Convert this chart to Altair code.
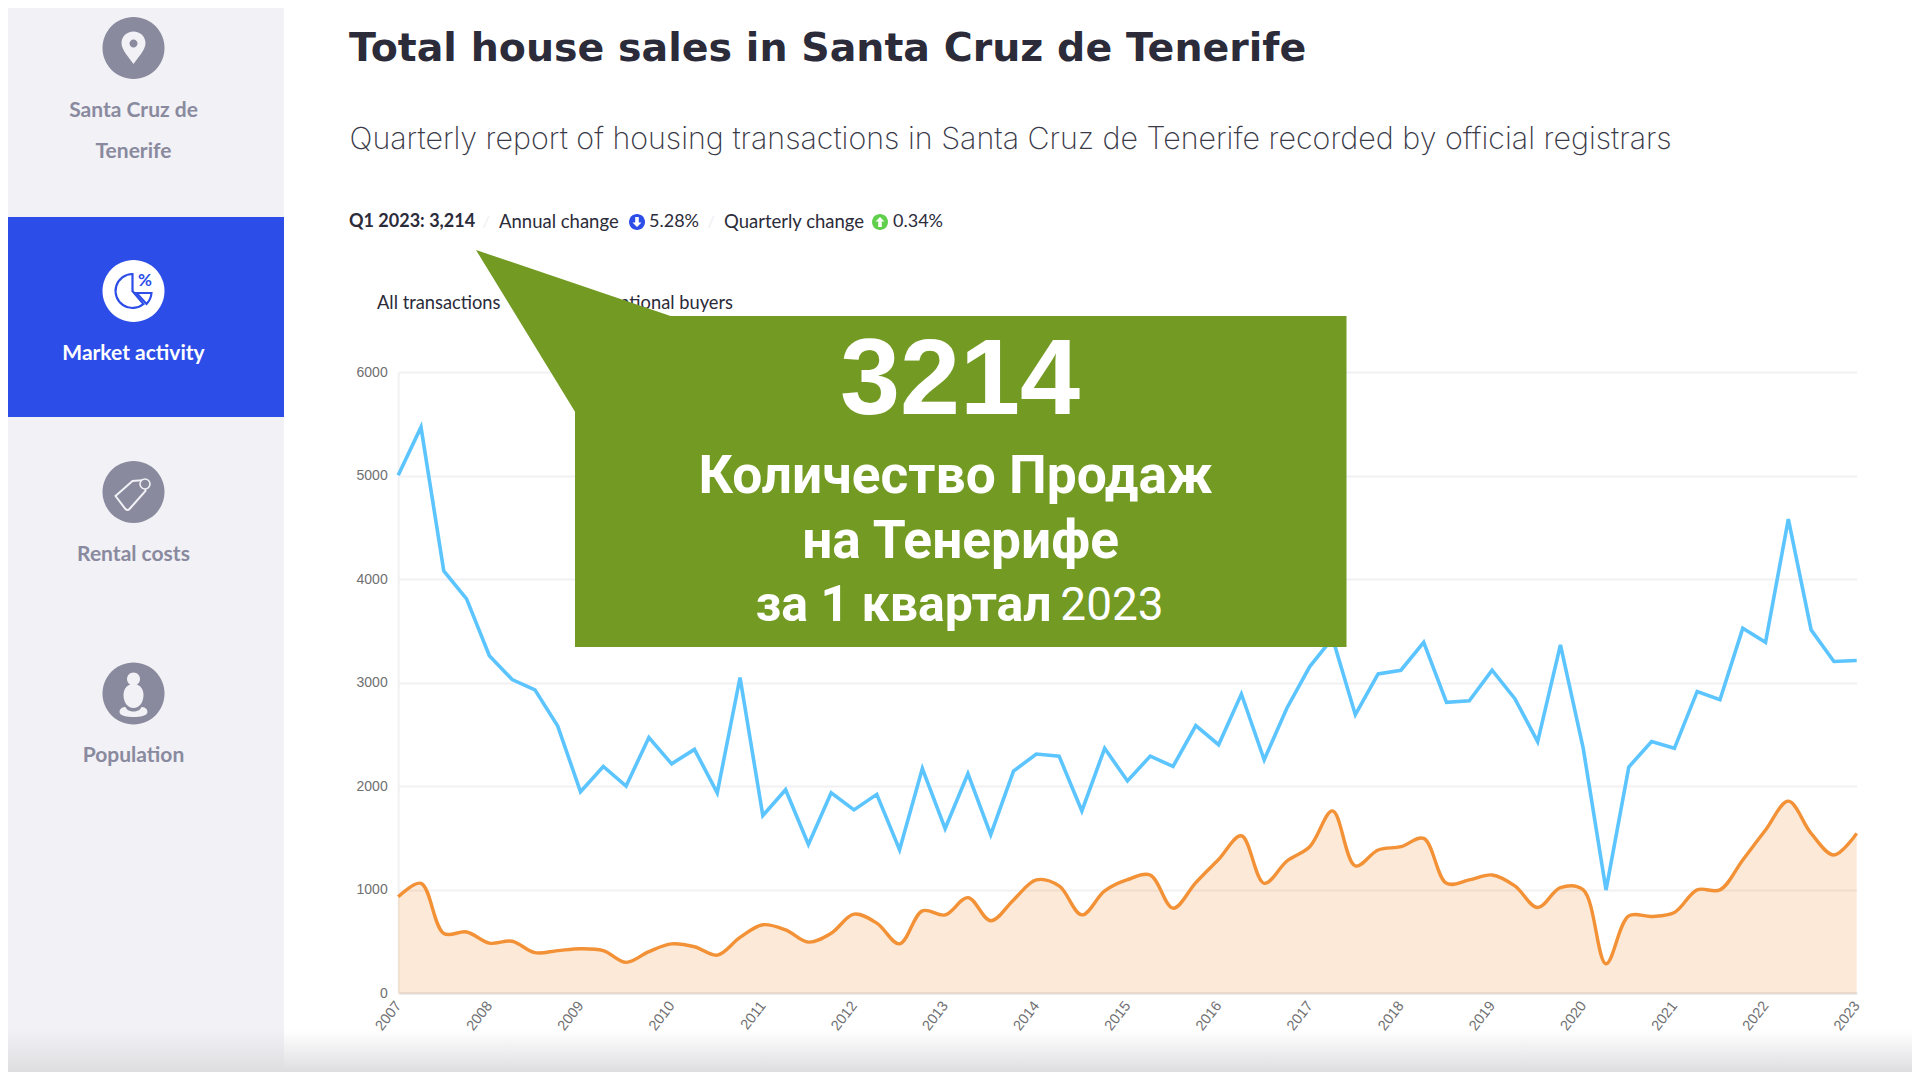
import altair as alt
import pandas as pd

# ---------- data ----------
YEARS = list(range(2007, 2024))
QUARTER_STEP = 0.25
ALL_TRANSACTIONS = [
    5005, 5470, 4080, 3810, 3260, 3030, 2930, 2580, 1945, 2190, 2000, 2470, 2215, 2355, 1935, 3050,
    1715, 1965, 1435, 1935, 1770, 1920, 1385, 2170, 1590, 2120, 1530, 2145, 2310, 2290, 1760, 2365,
    2050, 2290, 2190, 2585, 2400, 2890, 2255, 2755, 3155, 3430, 2690, 3085, 3120, 3390, 2810, 2825,
    3120, 2845, 2430, 3365, 2365, 995, 2185, 2430, 2365, 2915, 2835, 3525, 3390, 4580, 3510, 3205,
    3214,
]
INTERNATIONAL = [
    930, 1060, 575, 590, 482, 500, 390, 410, 428, 410, 296, 400, 475, 447, 366, 537,
    660, 610, 492, 578, 762, 675, 475, 794, 755, 922, 698, 900, 1093, 1035, 755, 987,
    1095, 1140, 820, 1067, 1292, 1520, 1060, 1276, 1414, 1760, 1228, 1382, 1414, 1495, 1060, 1093,
    1141, 1035, 826, 1019, 997, 283, 746, 740, 778, 997, 997, 1286, 1575, 1855, 1543, 1334,
    1543,
]
Y_TICKS = [0, 1000, 2000, 3000, 4000, 5000, 6000]

TITLE = "Total house sales in Santa Cruz de Tenerife"
SUBTITLE = "Quarterly report of housing transactions in Santa Cruz de Tenerife recorded by official registrars"
CALLOUT_NUMBER = "3214"
CALLOUT_LINES = ["Количество Продаж", "на Тенерифе", "за 1 квартал", "2023"]

# ---------- layout (reference pixels, page margin removed by PX) ----------
M = 8
W, H = 1904, 1064
def PX(v):
    return v - M

GREEN = "#739a23"
BLUE = "#2c4de8"
SIDE = "#f1f1f6"
GREY = "#8a8a9f"
INK = "#2b2b3a"
ONE = [{"a": 1}]

df = pd.DataFrame({
    "t": [YEARS[0] + i * QUARTER_STEP for i in range(len(ALL_TRANSACTIONS))],
    "all": ALL_TRANSACTIONS,
    "intl": INTERNATIONAL,
})

x_scale = alt.Scale(domain=[YEARS[0], YEARS[-1]], range=[PX(398.2), PX(1856.7)], nice=False, zero=False)
y_scale = alt.Scale(domain=[0, 6000], range=[PX(993), PX(372.3)], nice=False)

x_enc = alt.X("t:Q", scale=x_scale, title=None, axis=alt.Axis(
    values=YEARS, format="d", labelAngle=-52, labelAlign="right", labelBaseline="middle",
    labelFont="Liberation Sans", labelFontSize=14.5, labelColor="#6f6f72", labelPadding=10,
    ticks=False, grid=False, domainColor="#e2dcd8", domainWidth=2, labelOverlap=False,
    offset=-(H - PX(993)), labelFlush=False, labelBound=False))
y_enc = alt.Y("all:Q", scale=y_scale, title=None, axis=alt.Axis(
    values=Y_TICKS, format="d", labelFont="Liberation Sans", labelFontSize=14,
    labelColor="#6f6f72", labelPadding=11, ticks=False, grid=True, gridColor="#f1f1f3",
    gridWidth=2, domainColor="#f1f1f3", domainWidth=2, labelOverlap=False,
    offset=-PX(398.2)))


def rect(x0, y0, x1, y1, color, **kw):
    return alt.Chart(alt.Data(values=ONE)).mark_rect(color=color, **kw).encode(
        x=alt.value(PX(x0)), x2=alt.value(PX(x1)), y=alt.value(PX(y0)), y2=alt.value(PX(y1)))


def txt(s, x, y, size, color, font="Lato", weight="normal", align="left"):
    return alt.Chart(alt.Data(values=ONE)).mark_text(
        font=font, fontSize=size, fontWeight=weight, color=color, align=align, baseline="middle"
    ).encode(x=alt.value(PX(x)), y=alt.value(PX(y)), text=alt.value(s))


def shape(path, x, y, fill=None, stroke=None, width=2):
    kw = {"filled": fill is not None, "opacity": 1}
    if fill is not None:
        kw["fill"] = fill
        kw["stroke"] = fill
        kw["strokeWidth"] = 0
    if stroke is not None:
        kw["stroke"] = stroke
        kw["strokeWidth"] = width
    return alt.Chart(alt.Data(values=ONE)).mark_point(shape=path, size=4, **kw).encode(
        x=alt.value(PX(x)), y=alt.value(PX(y)))


def dot(x, y, r, color):
    return shape(f"M{-r},0 A{r},{r} 0 1 1 {r},0 A{r},{r} 0 1 1 {-r},0 Z", x, y, fill=color)


# ---------- chart marks ----------
base = alt.Chart(df)
area = base.mark_area(interpolate="catmull-rom", color="#f39137", opacity=0.2).encode(
    x=x_enc, y=alt.Y("intl:Q", scale=y_scale))
orange = base.mark_line(interpolate="catmull-rom", color="#f39137", strokeWidth=3.4).encode(
    x=alt.X("t:Q", scale=x_scale), y=alt.Y("intl:Q", scale=y_scale))
blue_line = base.mark_line(color="#5cc5ff", strokeWidth=3.6, strokeJoin="miter").encode(
    x=alt.X("t:Q", scale=x_scale), y=y_enc)

# ---------- page furniture ----------
SB = 21
layers = [
    rect(0, 0, 284, 1080, SIDE),
    rect(0, 217, 284, 417, BLUE),
    dot(133.5, 48, 31, GREY),
    shape("M0,16 C-4,10 -12,2 -12,-5 A12,11.5 0 1 1 12,-5 C12,2 4,10 0,16 Z", 133.5, 48, fill=SIDE),
    dot(133.5, 43.5, 4, GREY),
    txt("Santa Cruz de", 133.5, 111, SB, GREY, weight="bold", align="center"),
    txt("Tenerife", 133.5, 152, SB, GREY, weight="bold", align="center"),
    dot(133.5, 291, 31, "#ffffff"),
    shape("M-1,-17 A17,17 0 1 0 10,13 L-1,0 Z", 133.5, 291, stroke=BLUE, width=2.2),
    shape("M3,2 L18,2 A18,18 0 0 1 13,13 Z", 133.5, 291, stroke=BLUE, width=2.2),
    txt("%", 145, 281, 17, BLUE, weight="bold", align="center"),
    txt("Market activity", 133.5, 354, SB, "#ffffff", weight="bold", align="center"),
    dot(133.5, 492, 31, GREY),
    shape("M-18,2 L-1,-13 L11,-14 L12,-3 L-4,15 Q-6,17 -8,15 Z", 133.5, 494, stroke=SIDE, width=2),
    dot(145, 484, 5, GREY),
    shape("M-5,0 A5,5 0 1 1 5,0 A5,5 0 1 1 -5,0 Z", 145, 484, stroke=SIDE, width=1.6),
    txt("Rental costs", 133.5, 555, SB, GREY, weight="bold", align="center"),
    dot(133.5, 693.5, 31, GREY),
    dot(133.5, 679, 6.5, SIDE),
    shape("M0,-11 C8,-11 10,-4 10,0 C10,7 6,13 0,13 C-6,13 -10,7 -10,0 C-10,-4 -8,-11 0,-11 Z", 133.5, 695, fill=SIDE),
    shape("M-14,0 C-14,-4 -10,-5 -8,-5 C-6,1 6,1 8,-5 C10,-5 14,-4 14,0 C14,4 6,5 0,5 C-6,5 -14,4 -14,0 Z", 133.5, 712, fill=SIDE),
    txt("Population", 133.5, 756, SB, GREY, weight="bold", align="center"),
    txt(TITLE, 349, 49, 39.5, INK, font="DejaVu Sans", weight="bold"),
    txt(SUBTITLE, 349.5, 140, 30.4, "#3a3a48", font="Inter", weight=200),
    txt("Q1 2023: 3,214", 349, 222, 18, INK, weight="bold"),
    txt("/", 486, 222, 16, "#eeeef2", align="center"),
    txt("Annual change", 499, 222, 18.5, INK),
    dot(637, 222, 8, BLUE),
    shape("M0,5 L-4.5,0.5 L-1.8,0.5 L-1.8,-5 L1.8,-5 L1.8,0.5 L4.5,0.5 Z", 637, 222, fill="#ffffff"),
    txt("5.28%", 649, 222, 18, INK),
    txt("/", 711, 222, 16, "#eeeef2", align="center"),
    txt("Quarterly change", 724, 222, 18.5, INK),
    dot(880, 222, 8, "#5fcf4c"),
    shape("M0,-5 L-4.5,-0.5 L-1.8,-0.5 L-1.8,5 L1.8,5 L1.8,-0.5 L4.5,-0.5 Z", 880, 222, fill="#ffffff"),
    txt("0.34%", 893, 222, 18, INK),
    txt("All transactions", 377, 304, 18.3, INK),
    txt("International buyers", 733, 304, 18.3, INK, align="right"),
    area,
    orange,
    blue_line,
    shape("M0,0 L194.6,66 L870.5,66 L870.5,397 L99,397 L99,161.7 Z", 476, 250, fill=GREEN),
    txt(CALLOUT_NUMBER, 960, 382, 108, "#ffffff", font="Liberation Sans", weight="bold", align="center"),
    txt(CALLOUT_LINES[0], 955.6, 477, 53.3, "#ffffff", font="Roboto", weight="bold", align="center"),
    txt(CALLOUT_LINES[1], 960.6, 542, 53.3, "#ffffff", font="Roboto", weight="bold", align="center"),
    txt(CALLOUT_LINES[2], 903.6, 606, 50, "#ffffff", font="Roboto", weight="bold", align="center"),
    txt(CALLOUT_LINES[3], 1112, 606, 46, "#ffffff", font="Roboto", align="center"),
    alt.Chart(alt.Data(values=ONE)).mark_rect(color=alt.LinearGradient(
        gradient="linear", x1=0, x2=0, y1=0, y2=1,
        stops=[alt.GradientStop(offset=0, color="rgba(222,222,225,0)"),
               alt.GradientStop(offset=1, color="rgba(222,222,225,1)")])).encode(
        x=alt.value(0), x2=alt.value(W), y=alt.value(PX(1030)), y2=alt.value(H)),
]

chart = alt.layer(*layers).properties(
    width=W, height=H, padding=0, autosize=alt.AutoSizeParams(type="none"), background="#ffffff"
).configure_view(stroke=None)

chart.save("out.html", embed_options={"renderer": "svg", "actions": False})
